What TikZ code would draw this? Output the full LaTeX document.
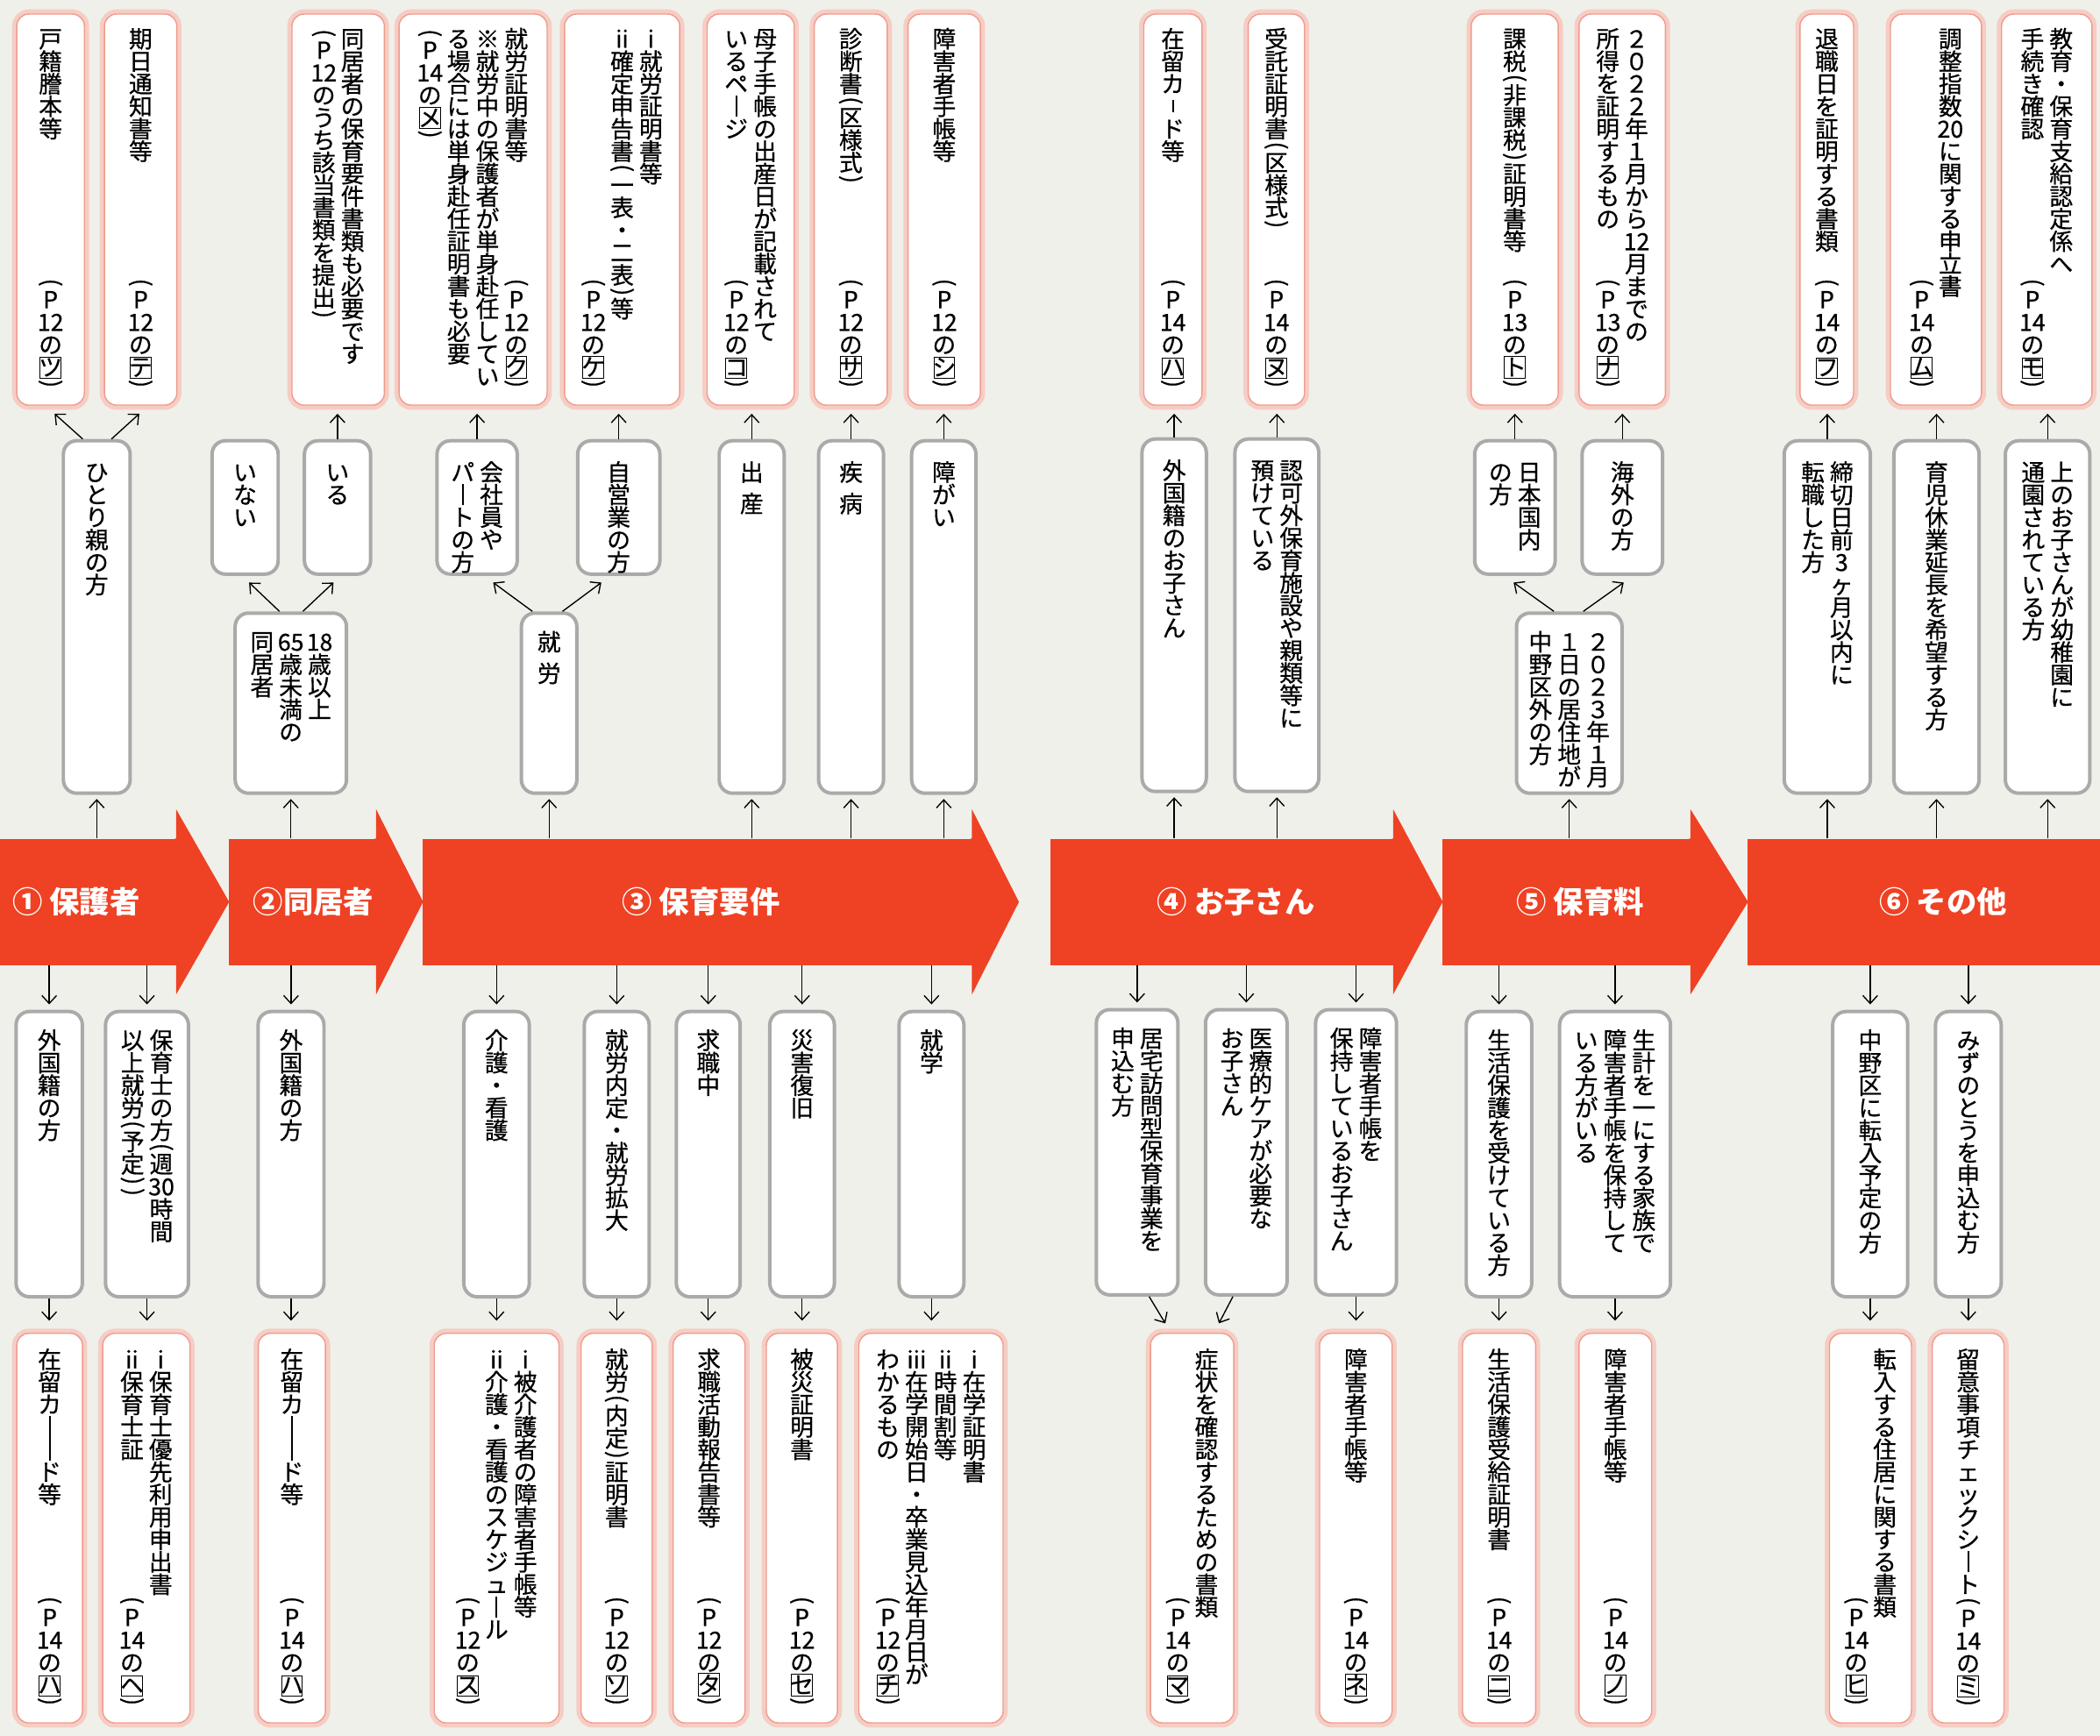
\documentclass[tikz,border=0pt]{standalone}
\usepackage{fontspec}
\usepackage{graphicx}
\setmainfont{Noto Sans CJK JP}
\newfontfamily\vtfam{Noto Sans CJK JP}[FakeBold=0.6]
\usepackage{tikz}
\usetikzlibrary{arrows.meta}
\usetikzlibrary{positioning}

\definecolor{bgpaper}{RGB}{240,240,235}
\definecolor{bandred}{RGB}{239,65,35}
\definecolor{docline}{RGB}{238,155,140}
\definecolor{docglow}{RGB}{246,205,196}
\definecolor{condgray}{RGB}{170,170,170}

\newcommand\vtf{\vtfam\fontsize{17.5pt}{16.8pt}\selectfont}
\newcommand\kk[1]{{\fboxsep=0.4pt\fboxrule=0.6pt\fbox{\makebox[0.8em]{\rule[-0.06em]{0pt}{0.78em}#1}}}}
\newcommand\cho[1][0.9em]{\rule[\dimexpr0.38em-#1/2\relax]{0.07em}{#1}}
\newcommand\vgap{}
\newcommand\ec{}

\ExplSyntaxOn
\dim_new:N \l_vt_w_dim
\dim_new:N \l_vt_h_dim
\dim_set:Nn \l_vt_w_dim {21.5pt}
\dim_set:Nn \l_vt_h_dim {16.8pt}
\seq_new:N \l_vt_cols_seq
\cs_new_protected:Npn \vt_box:nn #1#2
  {
    \hbox_to_wd:nn { \l_vt_w_dim }
      { \hss \vbox_to_ht:nn {#1} { \vss \hbox:n {#2} \vss } \hss }
  }
\cs_new_protected:Npn \vt_cell:n #1
  {
    \str_case:nnF {#1}
      {
        { \vgap } { \kern 0.4 \l_vt_h_dim }
        { ︵ } { \vt_box:nn { 0.5 \l_vt_h_dim } { \rotatebox{-90}{(} } }
        { ︶ } { \vt_box:nn { 0.5 \l_vt_h_dim } { \rotatebox{-90}{)} } }
      }
      { \vt_box:nn { \l_vt_h_dim } { \rule[-0.12em]{0pt}{1em} #1 } }
  }
\cs_new_protected:Npn \vt_col:n #1
  { \vtop { \offinterlineskip \kern 0pt \tl_map_function:nN {#1} \vt_cell:n } }
\NewDocumentCommand \vtext { m }
  {
    \seq_set_split:Nnn \l_vt_cols_seq { / } {#1}
    \seq_reverse:N \l_vt_cols_seq
    \hbox:n { \seq_map_function:NN \l_vt_cols_seq \vt_col:n }
  }
\ExplSyntaxOff
\newcommand\pref[2]{\vtext{︵P{#1}の{\kk{#2}}︶}}

\begin{document}
\begin{tikzpicture}[x=1pt, y=-1pt,
    >={Straight Barb[length=6pt,width=11pt]},
    arr/.style={->, line width=0.9pt},
    doc/.style={rounded corners=9pt, fill=white, draw=docline, line width=0.9pt,
      preaction={draw=docglow, line width=7pt}, inner xsep=0pt, font=\vtf, text height=0pt},
    dtop/.style={doc, inner ysep=10pt, text depth=272pt},
    dbot/.style={doc, inner ysep=11pt, text depth=268.9pt},
    cond/.style={rounded corners=10pt, fill=white, draw=condgray, line width=2.6pt,
      inner xsep=0pt, font=\vtf, text height=0pt},
    ctall/.style={cond, inner ysep=15pt, text depth=233.2pt},
    cshort/.style={cond, inner ysep=15pt, text depth=69.6pt},
    cmid/.style={cond, inner ysep=13pt, text depth=108.5pt},
    clow/.style={cond, inner ysep=13pt, text depth=187pt},
    vt/.style={inner sep=0pt, font=\vtf},
    band/.style={fill=bandred, minimum height=94.3pt, inner sep=0pt},
    bandlabel/.style={text=white, inner sep=0pt, font=\bfseries\fontsize{22.5pt}{22.5pt}\selectfont}]

  \fill[bgpaper] (0,0) rectangle (1568,1296);
  \useasboundingbox (0,0) rectangle (1568,1296);

  \begin{scope}
    \node[dtop, minimum width=50.5pt] (d1) at (37.75,156.5) {\vtext{戸籍謄本等}};
    \node[vt, above=12pt of d1.south] (d1r) {\pref{12}{ツ}};
    \node[dtop, minimum width=54pt] (d2) at (105,156.5) {\vtext{期日通知書等}};
    \node[vt, above=12pt of d2.south] (d2r) {\pref{12}{テ}};
    \node[dtop, minimum width=69pt] (d3) at (252.5,156.5) {\vtext{同居者の保育要件書類も必要です/︵P{12}のうち該当書類を提出︶}};
    \node[dtop, minimum width=110.5pt] (d4) at (353.25,156.5) {\vtext{就労証明書等/※就労中の保護者が単身赴任してい/る場合には単身赴任証明書も必要/︵P{14}の{\kk{メ}}︶}};
    \node[vt, above=12pt of d4.south, xshift=32.25pt] (d4r) {\pref{12}{ク}};
    \node[dtop, minimum width=86pt] (d5) at (464.5,156.5) {\vtext{i就労証明書等/{ii}確定申告書︵一表・二表︶等/\ec}};
    \node[vt, above=12pt of d5.south, xshift=-21.5pt] (d5r) {\pref{12}{ケ}};
    \node[dtop, minimum width=65pt] (d6) at (560.5,156.5) {\vtext{母子手帳の出産日が記載されて/いるペ{\cho}ジ}};
    \node[vt, above=12pt of d6.south, xshift=-10.75pt] (d6r) {\pref{12}{コ}};
    \node[dtop, minimum width=54.5pt] (d7) at (635.25,156.5) {\vtext{診断書︵区様式︶}};
    \node[vt, above=12pt of d7.south] (d7r) {\pref{12}{サ}};
    \node[dtop, minimum width=54pt] (d8) at (705,156.5) {\vtext{障害者手帳等}};
    \node[vt, above=12pt of d8.south] (d8r) {\pref{12}{シ}};
    \node[dtop, minimum width=43.5pt] (d9) at (875.75,156.5) {\vtext{在留カ{\cho[0.5em]}ド等}};
    \node[vt, above=12pt of d9.south] (d9r) {\pref{14}{ハ}};
    \node[dtop, minimum width=42pt] (d10) at (953,156.5) {\vtext{受託証明書︵区様式︶}};
    \node[vt, above=12pt of d10.south] (d10r) {\pref{14}{ヌ}};
    \node[dtop, minimum width=65pt] (d11) at (1131,156.5) {\vtext{課税︵非課税︶証明書等}};
    \node[vt, above=12pt of d11.south] (d11r) {\pref{13}{ト}};
    \node[dtop, minimum width=64.5pt] (d12) at (1211.25,156.5) {\vtext{２０２２年１月から{12}月までの/所得を証明するもの}};
    \node[vt, above=12pt of d12.south, xshift=-10.75pt] (d12r) {\pref{13}{ナ}};
    \node[dtop, minimum width=40pt] (d13) at (1364,156.5) {\vtext{退職日を証明する書類}};
    \node[vt, above=12pt of d13.south] (d13r) {\pref{14}{フ}};
    \node[dtop, minimum width=68pt] (d14) at (1445.5,156.5) {\vtext{調整指数{20}に関する申立書/\ec}};
    \node[vt, above=12pt of d14.south, xshift=-10.75pt] (d14r) {\pref{14}{ム}};
    \node[dtop, minimum width=67.5pt] (d15) at (1528.25,156.5) {\vtext{教育・保育支給認定係へ/手続き確認}};
    \node[vt, above=12pt of d15.south, xshift=-10.75pt] (d15r) {\pref{14}{モ}};
  \end{scope}

  \begin{scope}
    \node[ctall, minimum width=49.9pt] (oya) at (72.25,460.7) {\vtext{ひとり親の方}};
    \node[cshort, minimum width=49.4pt] (inai) at (183,378.9) {\vtext{いない}};
    \node[cshort, minimum width=49.4pt] (iru) at (252,378.9) {\vtext{いる}};
    \node[cmid, minimum width=83.1pt] (doukyo) at (217.15,525.05) {\vtext{{18}歳以上/{65}歳未満の/同居者}};
    \node[cshort, minimum width=59.9pt] (kaisha) at (356.25,378.9) {\vtext{会社員や/パ{\cho}トの方}};
    \node[cshort, minimum width=61.4pt] (jiei) at (462,378.9) {\vtext{自営業の方}};
    \node[cmid, minimum width=41.4pt] (shuro) at (410,525.05) {\vtext{就\vgap 労}};
    \node[ctall, minimum width=48.5pt] (shussan) at (561.25,460.7) {\vtext{出\vgap 産}};
    \node[ctall, minimum width=48.5pt] (shippei) at (635.45,460.7) {\vtext{疾\vgap 病}};
    \node[ctall, minimum width=48pt] (shogai) at (704.7,460.7) {\vtext{障がい}};
    \node[ctall, minimum width=48pt] (gaikoku) at (876.7,459.4) {\vtext{外国籍のお子さん}};
    \node[ctall, minimum width=62.6pt] (ninka) at (953.4,459.4) {\vtext{認可外保育施設や親類等に/預けている}};
    \node[cshort, minimum width=60.1pt] (nihon) at (1131.15,378.9) {\vtext{日本国内/の方}};
    \node[cshort, minimum width=60.1pt] (kaigai) at (1211.35,378.9) {\vtext{海外の方}};
    \node[cmid, minimum width=78.8pt] (nen2023) at (1171.7,525.05) {\vtext{２０２３年１月/１日の居住地が/中野区外の方}};
    \node[ctall, minimum width=64.3pt] (tenshoku) at (1364.35,460.7) {\vtext{締切日前3ヶ月以内に/転職した方}};
    \node[ctall, minimum width=63.6pt] (ikukyu) at (1445.9,460.7) {\vtext{育児休業延長を希望する方}};
    \node[ctall, minimum width=63.1pt] (ue) at (1528.85,460.7) {\vtext{上のお子さんが幼稚園に/通園されている方}};
  \end{scope}

  \begin{scope}
    \node[band, minimum width=141.3pt] (s1) at (60.65,673.45) {};
    \node[band, minimum width=109.7pt] (s2) at (225.75,673.45) {};
    \node[band, minimum width=409.8pt] (s3) at (520.6,673.45) {};
    \node[band, minimum width=256pt] (s4) at (912,673.45) {};
    \node[band, minimum width=185pt] (s5) at (1169.5,673.45) {};
    \node[band, minimum width=275pt] (s6) at (1442.5,673.45) {};
    \fill[bandred] ([xshift=-1pt]s1.north east) -- (s1.north east) -- ([yshift=21.8pt]s1.north east) -- ([xshift=39.6pt]s1.east) -- ([yshift=-21.8pt]s1.south east) -- (s1.south east) -- ([xshift=-1pt]s1.south east) -- cycle;
    \fill[bandred] ([xshift=-1pt]s2.north east) -- (s2.north east) -- ([yshift=21.8pt]s2.north east) -- ([xshift=35.1pt]s2.east) -- ([yshift=-21.8pt]s2.south east) -- (s2.south east) -- ([xshift=-1pt]s2.south east) -- cycle;
    \fill[bandred] ([xshift=-1pt]s3.north east) -- (s3.north east) -- ([yshift=21.8pt]s3.north east) -- ([xshift=35.1pt]s3.east) -- ([yshift=-21.8pt]s3.south east) -- (s3.south east) -- ([xshift=-1pt]s3.south east) -- cycle;
    \fill[bandred] ([xshift=-1pt]s4.north east) -- (s4.north east) -- ([yshift=21.8pt]s4.north east) -- ([xshift=37pt]s4.east) -- ([yshift=-21.8pt]s4.south east) -- (s4.south east) -- ([xshift=-1pt]s4.south east) -- cycle;
    \fill[bandred] ([xshift=-1pt]s5.north east) -- (s5.north east) -- ([yshift=21.8pt]s5.north east) -- ([xshift=43pt]s5.east) -- ([yshift=-21.8pt]s5.south east) -- (s5.south east) -- ([xshift=-1pt]s5.south east) -- cycle;
    \node[bandlabel] (l1) at (57,673.45) {① 保護者};
    \node[bandlabel] (l2) at (234,673.45) {②同居者};
    \node[bandlabel] (l3) at (523.5,673.45) {③ 保育要件};
    \node[bandlabel] (l4) at (923,673.45) {④ お子さん};
    \node[bandlabel] (l5) at (1180,673.45) {⑤ 保育料};
    \node[bandlabel] (l6) at (1451,673.45) {⑥ その他};
  \end{scope}

  \begin{scope}
    \node[clow, minimum width=49.5pt] (e1) at (36.75,861.8) {\vtext{外国籍の方}};
    \node[clow, minimum width=61.9pt] (e2) at (109.75,861.8) {\vtext{保育士の方︵週{30}時間/以上就労︵予定︶︶}};
    \node[clow, minimum width=49.2pt] (e3) at (217.3,861.8) {\vtext{外国籍の方}};
    \node[clow, minimum width=48.9pt] (e4) at (370.75,861.8) {\vtext{介護・看護}};
    \node[clow, minimum width=48.4pt] (e5) at (460.5,861.8) {\vtext{就労内定・就労拡大}};
    \node[clow, minimum width=47.7pt] (e6) at (528.85,861.8) {\vtext{求職中}};
    \node[clow, minimum width=48.2pt] (e7) at (598.9,861.8) {\vtext{災害復旧}};
    \node[clow, minimum width=48.4pt] (e8) at (695.5,861.8) {\vtext{就学}};
    \node[clow, minimum width=60.9pt] (e9) at (849.05,860.4) {\vtext{居宅訪問型保育事業を/申込む方}};
    \node[clow, minimum width=60.9pt] (e10) at (930.55,860.4) {\vtext{医療的ケアが必要な/お子さん}};
    \node[clow, minimum width=60.4pt] (e11) at (1012.5,860.4) {\vtext{障害者手帳を/保持しているお子さん}};
    \node[clow, minimum width=48.9pt] (e12) at (1119.25,861.8) {\vtext{生活保護を受けている方}};
    \node[clow, minimum width=82.8pt] (e13) at (1205.9,861.8) {\vtext{生計を一にする家族で/障害者手帳を保持して/いる方がいる}};
    \node[clow, minimum width=56pt] (e14) at (1396.4,861.8) {\vtext{中野区に転入予定の方}};
    \node[clow, minimum width=49pt] (e15) at (1469.7,861.8) {\vtext{みずのとうを申込む方}};
  \end{scope}

  \begin{scope}
    \node[dbot, minimum width=49.1pt] (f1) at (37.05,1141.05) {\vtext{在留カ{\cho[16.8pt]}{\cho[16.8pt]}ド等}};
    \node[vt, above=12pt of f1.south] (f1r) {\pref{14}{ハ}};
    \node[dbot, minimum width=65.1pt] (f2) at (109.25,1141.05) {\vtext{i保育士優先利用申出書/{ii}保育士証}};
    \node[vt, above=12pt of f2.south, xshift=-10.75pt] (f2r) {\pref{14}{ヘ}};
    \node[dbot, minimum width=50.1pt] (f3) at (217.95,1141.05) {\vtext{在留カ{\cho[16.8pt]}{\cho[16.8pt]}ド等}};
    \node[vt, above=12pt of f3.south] (f3r) {\pref{14}{ハ}};
    \node[dbot, minimum width=93.2pt] (f4) at (370.8,1141.05) {\vtext{i被介護者の障害者手帳等/{ii}介護・看護のスケジュ{\cho}ル/\ec}};
    \node[vt, above=12pt of f4.south, xshift=-21.5pt] (f4r) {\pref{12}{ス}};
    \node[dbot, minimum width=53.1pt] (f5) at (460.45,1141.05) {\vtext{就労︵内定︶証明書}};
    \node[vt, above=12pt of f5.south] (f5r) {\pref{12}{ソ}};
    \node[dbot, minimum width=53.6pt] (f6) at (529.4,1141.05) {\vtext{求職活動報告書等}};
    \node[vt, above=12pt of f6.south] (f6r) {\pref{12}{タ}};
    \node[dbot, minimum width=53.1pt] (f7) at (598.75,1141.05) {\vtext{被災証明書}};
    \node[vt, above=12pt of f7.south] (f7r) {\pref{12}{セ}};
    \node[dbot, minimum width=107.7pt] (f8) at (695.15,1141.05) {\vtext{i在学証明書/{ii}時間割等/{iii}在学開始日・卒業見込年月日が/わかるもの}};
    \node[vt, above=12pt of f8.south, xshift=-32.25pt] (f8r) {\pref{12}{チ}};
    \node[dbot, minimum width=62.2pt] (f9) at (890.1,1141.05) {\vtext{症状を確認するための書類/\ec}};
    \node[vt, above=12pt of f9.south, xshift=-10.75pt] (f9r) {\pref{14}{マ}};
    \node[dbot, minimum width=54.1pt] (f10) at (1012.35,1141.05) {\vtext{障害者手帳等}};
    \node[vt, above=12pt of f10.south] (f10r) {\pref{14}{ネ}};
    \node[dbot, minimum width=54.6pt] (f11) at (1119.3,1141.05) {\vtext{生活保護受給証明書}};
    \node[vt, above=12pt of f11.south] (f11r) {\pref{14}{ニ}};
    \node[dbot, minimum width=54.3pt] (f12) at (1206.15,1141.05) {\vtext{障害者手帳等}};
    \node[vt, above=12pt of f12.south] (f12r) {\pref{14}{ノ}};
    \node[dbot, minimum width=61.2pt] (f13) at (1396.6,1141.05) {\vtext{転入する住居に関する書類/\ec}};
    \node[vt, above=12pt of f13.south, xshift=-10.75pt] (f13r) {\pref{14}{ヒ}};
    \node[dbot, minimum width=53.5pt] (f14) at (1469.55,1141.05) {\vtext{留意事項チェックシ{\cho}ト︵P{14}の{\kk{ミ}}︶}};
  \end{scope}

  \draw[arr, shorten >=3pt] (s1.north -| oya) -- (oya);
  \draw[arr, shorten >=3pt] (s2.north -| doukyo) -- (doukyo);
  \draw[arr, shorten >=3pt] (s3.north -| shuro) -- (shuro);
  \draw[arr, shorten >=3pt] (s3.north -| shussan) -- (shussan);
  \draw[arr, shorten >=3pt] (s3.north -| shippei) -- (shippei);
  \draw[arr, shorten >=3pt] (s3.north -| shogai) -- (shogai);
  \draw[arr, shorten >=3pt] (s4.north -| gaikoku) -- (gaikoku);
  \draw[arr, shorten >=3pt] (s4.north -| ninka) -- (ninka);
  \draw[arr, shorten >=3pt] (s5.north -| nen2023) -- (nen2023);
  \draw[arr, shorten >=3pt] (s6.north -| tenshoku) -- (tenshoku);
  \draw[arr, shorten >=3pt] (s6.north -| ikukyu) -- (ikukyu);
  \draw[arr, shorten >=3pt] (s6.north -| ue) -- (ue);

  \draw[arr] ([xshift=-10.5pt]oya.north) -- ([xshift=3pt,yshift=-6pt]d1.south);
  \draw[arr] ([xshift=11pt]oya.north) -- ([xshift=-1pt,yshift=-6pt]d2.south);
  \draw[arr] ([xshift=-8.5pt]doukyo.north) -- ([xshift=3pt,yshift=-5pt]inai.south);
  \draw[arr] ([xshift=9pt]doukyo.north) -- ([xshift=-3pt,yshift=-5pt]iru.south);
  \draw[arr] ([xshift=-12.5pt]shuro.north) -- ([xshift=12pt,yshift=-5pt]kaisha.south);
  \draw[arr] ([xshift=10pt]shuro.north) -- ([xshift=-13pt,yshift=-5pt]jiei.south);
  \draw[arr] ([xshift=-11.5pt]nen2023.north) -- ([xshift=-1pt,yshift=-5pt]nihon.south);
  \draw[arr] ([xshift=10.5pt]nen2023.north) -- ([xshift=1pt,yshift=-5pt]kaigai.south);
  \draw[arr, shorten >=6pt] (iru) -- (iru |- d3.south);
  \draw[arr, shorten >=6pt] (kaisha) -- (kaisha |- d4.south);
  \draw[arr, shorten >=6pt] (jiei) -- (jiei |- d5.south);
  \draw[arr, shorten >=6pt] (shussan) -- (shussan |- d6.south);
  \draw[arr, shorten >=6pt] (shippei) -- (shippei |- d7.south);
  \draw[arr, shorten >=6pt] (shogai) -- (shogai |- d8.south);
  \draw[arr, shorten >=6pt] (gaikoku) -- (gaikoku |- d9.south);
  \draw[arr, shorten >=6pt] (ninka) -- (ninka |- d10.south);
  \draw[arr, shorten >=6pt] (nihon) -- (nihon |- d11.south);
  \draw[arr, shorten >=6pt] (kaigai) -- (kaigai |- d12.south);
  \draw[arr, shorten >=6pt] (tenshoku) -- (tenshoku |- d13.south);
  \draw[arr, shorten >=6pt] (ikukyu) -- (ikukyu |- d14.south);
  \draw[arr, shorten >=6pt] (ue) -- (ue |- d15.south);

  \draw[arr, shorten >=4pt] (s1.south -| e1) -- (e1);
  \draw[arr, shorten >=4pt] (s1.south -| e2) -- (e2);
  \draw[arr, shorten >=4pt] (s2.south -| e3) -- (e3);
  \draw[arr, shorten >=4pt] (s3.south -| e4) -- (e4);
  \draw[arr, shorten >=4pt] (s3.south -| e5) -- (e5);
  \draw[arr, shorten >=4pt] (s3.south -| e6) -- (e6);
  \draw[arr, shorten >=4pt] (s3.south -| e7) -- (e7);
  \draw[arr, shorten >=4pt] (s3.south -| e8) -- (e8);
  \draw[arr, shorten >=4pt] (s4.south -| e9) -- (e9);
  \draw[arr, shorten >=4pt] (s4.south -| e10) -- (e10);
  \draw[arr, shorten >=4pt] (s4.south -| e11) -- (e11);
  \draw[arr, shorten >=4pt] (s5.south -| e12) -- (e12);
  \draw[arr, shorten >=4pt] (s5.south -| e13) -- (e13);
  \draw[arr, shorten >=4pt] (s6.south -| e14) -- (e14);
  \draw[arr, shorten >=4pt] (s6.south -| e15) -- (e15);

  \draw[arr, shorten >=9pt] (e1) -- (e1 |- f1.north);
  \draw[arr, shorten >=9pt] (e2) -- (e2 |- f2.north);
  \draw[arr, shorten >=9pt] (e3) -- (e3 |- f3.north);
  \draw[arr, shorten >=9pt] (e4) -- (e4 |- f4.north);
  \draw[arr, shorten >=9pt] (e5) -- (e5 |- f5.north);
  \draw[arr, shorten >=9pt] (e6) -- (e6 |- f6.north);
  \draw[arr, shorten >=9pt] (e7) -- (e7 |- f7.north);
  \draw[arr, shorten >=9pt] (e8) -- (e8 |- f8.north);
  \draw[arr] ([xshift=9pt]e9.south) -- ([xshift=-20pt,yshift=7pt]f9.north);
  \draw[arr] ([xshift=-10pt]e10.south) -- ([xshift=20pt,yshift=7pt]f9.north);
  \draw[arr, shorten >=9pt] (e11) -- (e11 |- f10.north);
  \draw[arr, shorten >=9pt] (e12) -- (e12 |- f11.north);
  \draw[arr, shorten >=9pt] (e13) -- (e13 |- f12.north);
  \draw[arr, shorten >=9pt] (e14) -- (e14 |- f13.north);
  \draw[arr, shorten >=9pt] (e15) -- (e15 |- f14.north);
\end{tikzpicture}
\end{document}
